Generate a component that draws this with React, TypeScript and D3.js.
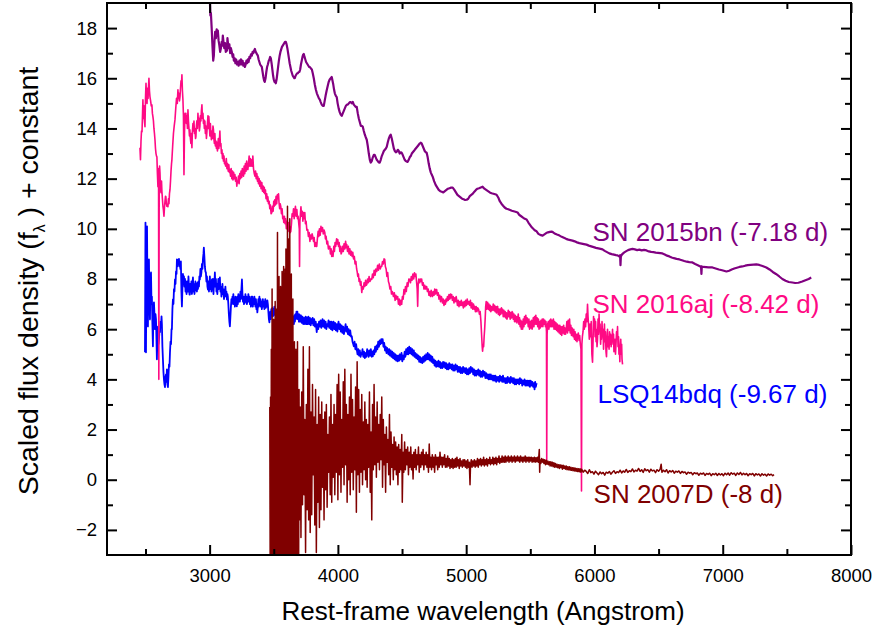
import React, { useEffect, useRef } from 'react'
import * as d3 from 'd3'

// [rest-frame wavelength (A), scaled flux + constant]
const sn2015bn: [number, number][] = [
  [3002,19.1],[3006,18.5],[3010,18.6],[3016,18.0],[3022,17.3],[3028,16.7],[3033,16.9],[3038,17.5],[3043,17.85],[3049,17.6],[3055,17.95],[3060,17.7],[3064,17.9],[3070,17.5],[3076,17.3],[3082,17.05],[3088,17.2],[3094,17.45],[3098,17.3],[3103,17.7],[3108,17.45],[3114,17.2],[3120,17.4],[3126,17.05],[3131,17.25],[3135,17.1],[3139,17.6],[3142,17.45],[3148,17.2],[3154,17.35],[3160,17.0],[3166,17.2],[3173,17.05],[3179,16.85],[3184,16.95],[3189,16.7],[3195,16.8],[3201,16.6],[3207,16.75],[3213,16.55],[3220,16.65],[3226,16.5],[3232,16.7],[3238,16.55],[3244,16.75],[3251,16.55],[3257,16.7],[3263,16.5],[3269,16.6],[3275,16.45],[3281,16.55],[3287,16.7],[3293,16.6],[3298,16.75],[3304,16.65],[3310,16.85],[3316,16.8],[3322,16.95],[3329,16.9],[3335,17.05],[3341,17.0],[3347,17.1],[3353,17.17],[3359,17.05],[3365,17.0],[3370,16.95],[3376,16.9],[3382,16.75],[3388,16.65],[3394,16.55],[3400,16.5],[3407,16.45],[3413,16.25],[3419,16.05],[3425,15.9],[3430,15.86],[3436,16.0],[3442,16.25],[3448,16.45],[3454,16.55],[3461,16.7],[3466,16.75],[3472,16.85],[3477,16.8],[3483,16.6],[3489,16.35],[3495,16.1],[3500,15.95],[3506,15.85],[3511,15.9],[3516,15.8],[3522,15.95],[3528,16.2],[3534,16.45],[3540,16.7],[3546,16.9],[3552,17.05],[3558,17.15],[3564,17.25],[3570,17.3],[3576,17.35],[3582,17.4],[3588,17.45],[3594,17.45],[3600,17.35],[3606,17.2],[3612,17.0],[3618,16.8],[3624,16.6],[3630,16.45],[3636,16.3],[3642,16.2],[3648,16.1],[3654,16.05],[3660,16.0],[3664,16.0],[3670,16.1],[3676,16.15],[3682,16.2],[3688,16.2],[3694,16.25],[3700,16.25],[3706,16.35],[3712,16.55],[3718,16.7],[3724,16.85],[3730,16.95],[3734,16.97],[3740,16.85],[3746,16.75],[3752,16.65],[3758,16.6],[3764,16.55],[3770,16.5],[3776,16.45],[3782,16.45],[3788,16.4],[3797,16.35],[3804,16.2],[3812,16.0],[3820,15.75],[3828,15.55],[3836,15.4],[3844,15.3],[3852,15.2],[3859,15.15],[3866,15.05],[3874,14.95],[3882,14.9],[3890,14.9],[3897,15.1],[3904,15.3],[3912,15.5],[3921,15.7],[3928,15.85],[3936,15.95],[3944,16.0],[3952,16.05],[3958,15.9],[3964,15.75],[3970,15.55],[3976,15.4],[3984,15.3],[3991,15.25],[3998,15.0],[4006,14.8],[4014,14.65],[4022,14.55],[4030,14.5],[4038,14.6],[4046,14.7],[4054,14.8],[4062,14.9],[4070,14.95],[4077,14.95],[4085,15.0],[4093,15.05],[4100,15.05],[4108,15.0],[4116,15.06],[4124,14.95],[4132,14.9],[4140,14.85],[4147,14.86],[4155,14.6],[4163,14.4],[4171,14.25],[4179,14.1],[4186,14.1],[4194,14.07],[4202,13.9],[4210,13.75],[4217,13.65],[4225,13.55],[4233,13.3],[4241,13.0],[4249,12.75],[4256,12.64],[4264,12.7],[4272,12.85],[4280,12.95],[4287,12.95],[4295,12.85],[4303,12.75],[4311,12.7],[4318,12.65],[4326,12.64],[4334,12.75],[4342,12.9],[4350,13.0],[4358,13.1],[4366,13.15],[4374,13.2],[4381,13.27],[4389,13.45],[4397,13.6],[4405,13.7],[4412,13.75],[4420,13.6],[4428,13.4],[4436,13.2],[4444,13.1],[4452,13.05],[4459,13.07],[4467,13.15],[4475,13.1],[4482,13.0],[4490,13.05],[4497,13.03],[4505,12.95],[4513,12.85],[4521,12.75],[4529,12.7],[4537,12.68],[4544,12.67],[4552,12.75],[4560,12.85],[4568,12.9],[4576,13.0],[4584,13.05],[4592,13.1],[4599,13.15],[4607,13.2],[4615,13.25],[4623,13.3],[4630,13.35],[4638,13.4],[4645,13.43],[4653,13.4],[4661,13.3],[4669,13.2],[4677,13.1],[4685,13.05],[4692,13.03],[4700,12.85],[4708,12.6],[4716,12.4],[4724,12.25],[4732,12.15],[4739,12.08],[4750,11.9],[4762,11.75],[4774,11.65],[4786,11.55],[4798,11.5],[4810,11.48],[4822,11.45],[4834,11.5],[4846,11.55],[4858,11.6],[4870,11.62],[4882,11.64],[4895,11.64],[4908,11.55],[4920,11.45],[4932,11.35],[4944,11.3],[4956,11.25],[4968,11.2],[4980,11.18],[4992,11.15],[5004,11.16],[5016,11.2],[5028,11.3],[5040,11.35],[5052,11.4],[5064,11.48],[5076,11.55],[5088,11.6],[5100,11.62],[5114,11.65],[5128,11.68],[5142,11.6],[5156,11.55],[5170,11.5],[5184,11.45],[5198,11.42],[5212,11.4],[5226,11.38],[5237,11.36],[5250,11.25],[5262,11.1],[5275,11.0],[5288,10.92],[5300,10.85],[5314,10.8],[5328,10.78],[5342,10.75],[5356,10.72],[5370,10.7],[5384,10.68],[5401,10.65],[5415,10.55],[5429,10.5],[5443,10.45],[5457,10.4],[5471,10.37],[5485,10.25],[5499,10.15],[5513,10.05],[5527,9.98],[5541,9.92],[5549,9.9],[5563,9.8],[5577,9.76],[5596,9.73],[5610,9.78],[5624,9.83],[5638,9.86],[5652,9.88],[5666,9.89],[5680,9.85],[5694,9.8],[5708,9.77],[5728,9.73],[5745,9.68],[5762,9.64],[5779,9.6],[5796,9.57],[5812,9.55],[5829,9.53],[5846,9.5],[5864,9.46],[5882,9.43],[5900,9.41],[5918,9.39],[5938,9.37],[5956,9.33],[5975,9.3],[5994,9.27],[6012,9.24],[6030,9.22],[6048,9.2],[6063,9.18],[6080,9.12],[6098,9.07],[6116,9.02],[6134,8.99],[6152,8.97],[6168,8.95],[6180,8.94],[6192,8.9],[6200,8.95],[6203,8.55],[6206,8.9],[6215,8.98],[6230,9.05],[6245,9.1],[6262,9.15],[6280,9.18],[6297,9.2],[6315,9.18],[6333,9.15],[6350,9.17],[6368,9.14],[6387,9.16],[6406,9.14],[6424,9.1],[6442,9.08],[6460,9.07],[6478,9.05],[6496,9.04],[6513,9.03],[6530,9.02],[6548,8.98],[6566,8.93],[6584,8.9],[6602,8.86],[6620,8.83],[6640,8.8],[6663,8.78],[6682,8.75],[6700,8.72],[6720,8.69],[6740,8.67],[6764,8.66],[6785,8.6],[6806,8.55],[6825,8.5],[6831,8.5],[6834,8.2],[6837,8.5],[6850,8.48],[6870,8.47],[6890,8.46],[6920,8.46],[6945,8.42],[6970,8.38],[6995,8.35],[7029,8.3],[7050,8.33],[7070,8.38],[7090,8.42],[7110,8.45],[7130,8.48],[7153,8.5],[7175,8.53],[7195,8.55],[7215,8.56],[7240,8.57],[7262,8.58],[7285,8.56],[7310,8.52],[7340,8.46],[7365,8.38],[7390,8.28],[7415,8.2],[7441,8.1],[7465,8.0],[7490,7.93],[7515,7.88],[7543,7.86],[7565,7.84],[7590,7.85],[7620,7.9],[7645,7.95],[7670,8.0],[7690,8.06]
]

const sn2016aj: [number, number][] = [
  [2457,13.23],[2461,12.75],[2465,13.5],[2469,13.9],[2473,13.87],[2477,14.6],[2480,15.14],[2484,14.4],[2488,14.9],[2492,14.3],[2496,14.07],[2500,15.2],[2504,15.8],[2508,15.3],[2512,15.0],[2516,15.6],[2520,15.2],[2524,15.7],[2527,16.0],[2531,15.5],[2535,15.26],[2540,15.1],[2545,14.9],[2550,14.94],[2554,14.6],[2558,14.47],[2562,14.3],[2566,14.0],[2570,13.8],[2574,13.55],[2578,13.2],[2582,13.0],[2586,12.9],[2589,12.87],[2593,12.2],[2597,11.68],[2600,12.4],[2602,11.9],[2604,4.0],[2607,11.6],[2610,12.5],[2613,12.24],[2617,11.6],[2621,11.44],[2625,11.9],[2628,11.5],[2632,11.2],[2636,10.9],[2640,10.75],[2644,10.5],[2648,10.85],[2652,11.1],[2656,11.3],[2659,11.28],[2663,11.0],[2667,10.9],[2671,10.95],[2675,10.88],[2679,11.2],[2683,11.0],[2687,11.4],[2691,11.56],[2695,11.9],[2699,12.3],[2703,12.6],[2706,12.75],[2712,13.3],[2718,13.8],[2724,14.1],[2730,14.35],[2736,14.8],[2742,15.2],[2748,15.0],[2753,15.54],[2757,15.2],[2761,15.4],[2765,15.1],[2769,15.26],[2773,15.6],[2777,15.9],[2781,15.8],[2784,16.14],[2788,15.5],[2792,15.14],[2796,14.5],[2800,12.16],[2804,13.8],[2808,14.6],[2812,14.3],[2815,14.6],[2819,14.2],[2823,14.5],[2827,14.0],[2831,14.74],[2835,14.3],[2839,14.0],[2843,13.7],[2846,13.95],[2850,13.6],[2854,13.4],[2858,13.8],[2862,13.23],[2866,13.9],[2870,14.2],[2874,13.9],[2878,14.3],[2882,13.8],[2886,14.0],[2890,13.6],[2893,13.67],[2897,14.1],[2901,14.3],[2905,14.0],[2909,14.6],[2913,14.2],[2917,14.4],[2920,13.9],[2924,14.07],[2928,14.5],[2932,14.3],[2936,14.7],[2940,14.94],[2944,14.4],[2948,14.6],[2952,14.2],[2955,14.35],[2959,14.0],[2963,14.3],[2967,13.8],[2971,14.1],[2975,13.6],[2979,13.87],[2983,14.2],[2987,14.5],[2991,14.0],[2994,14.47],[2998,14.1],[3002,13.7],[3006,14.2],[3010,13.8],[3014,13.55],[3018,13.9],[3022,13.6],[3026,14.1],[3030,13.95],[3033,13.6],[3037,13.4],[3041,13.8],[3045,13.3],[3049,13.5],[3053,13.2],[3057,13.45],[3061,13.1],[3064,13.35],[3068,13.6],[3072,13.2],[3076,13.5],[3080,13.9],[3084,13.3],[3088,13.4],[3092,13.0],[3096,13.15],[3100,12.8],[3104,13.0],[3108,12.7],[3112,12.9],[3116,12.6],[3119,12.64],[3125,12.5],[3130,12.8],[3135,12.4],[3140,12.6],[3145,12.3],[3150,12.55],[3154,12.25],[3158,12.36],[3163,12.1],[3168,12.4],[3173,12.0],[3178,12.3],[3182,11.95],[3187,12.25],[3192,12.0],[3197,12.16],[3202,11.9],[3207,12.05],[3212,11.7],[3216,11.9],[3220,11.84],[3225,12.1],[3230,11.8],[3235,12.2],[3240,12.0],[3245,12.3],[3250,12.05],[3255,12.4],[3259,12.28],[3264,12.1],[3269,12.5],[3274,12.2],[3279,12.6],[3284,12.3],[3289,12.7],[3294,12.4],[3298,12.36],[3303,12.6],[3308,12.9],[3313,12.5],[3318,12.8],[3323,12.5],[3329,12.75],[3333,12.5],[3337,12.9],[3342,12.4],[3348,12.2],[3353,12.1],[3358,12.3],[3363,12.0],[3368,12.2],[3373,11.9],[3376,12.08],[3381,11.8],[3386,12.0],[3391,11.7],[3396,11.9],[3401,11.6],[3407,11.84],[3412,11.5],[3417,11.7],[3422,11.45],[3426,11.65],[3430,11.4],[3435,11.55],[3440,11.2],[3445,11.4],[3450,11.1],[3454,11.28],[3459,11.0],[3464,11.1],[3469,10.8],[3474,10.95],[3479,10.6],[3485,10.65],[3490,10.9],[3495,10.7],[3500,11.1],[3504,10.9],[3508,11.16],[3513,10.95],[3518,11.3],[3523,11.0],[3528,11.36],[3532,11.2],[3537,11.4],[3541,11.05],[3546,10.8],[3550,11.0],[3555,10.88],[3560,10.6],[3565,10.8],[3570,10.4],[3574,10.5],[3578,10.25],[3583,10.5],[3588,10.2],[3593,10.4],[3598,10.0],[3603,10.3],[3608,10.0],[3613,10.25],[3618,9.9],[3623,10.1],[3628,9.85],[3633,9.9],[3638,10.2],[3643,10.6],[3649,10.5],[3654,10.8],[3659,10.4],[3664,10.7],[3669,10.9],[3674,10.5],[3680,10.77],[3685,10.4],[3690,10.5],[3695,10.2],[3699,10.0],[3701,8.5],[3704,10.3],[3708,10.6],[3712,10.88],[3717,10.5],[3722,10.7],[3727,10.3],[3732,10.65],[3737,10.4],[3742,10.65],[3747,10.2],[3752,10.3],[3758,9.95],[3765,9.97],[3770,9.7],[3776,9.85],[3782,9.5],[3788,9.75],[3794,9.6],[3799,9.8],[3804,9.7],[3810,9.5],[3815,9.65],[3820,9.3],[3826,9.45],[3830,9.3],[3835,9.3],[3840,9.6],[3846,9.9],[3851,9.7],[3856,10.0],[3862,9.75],[3868,10.1],[3874,9.9],[3880,10.05],[3886,9.8],[3892,9.95],[3898,9.85],[3903,9.6],[3908,9.7],[3914,9.4],[3920,9.5],[3926,9.2],[3932,9.3],[3937,9.3],[3942,9.0],[3947,9.2],[3952,8.9],[3957,9.1],[3962,8.9],[3968,9.3],[3973,9.1],[3978,9.45],[3983,9.3],[3990,9.6],[3995,9.4],[3999,9.57],[4005,9.3],[4010,9.45],[4015,9.1],[4020,9.3],[4025,9.0],[4030,9.06],[4036,9.3],[4042,9.1],[4048,9.4],[4054,9.2],[4060,9.5],[4065,9.25],[4069,9.37],[4075,9.1],[4081,9.3],[4087,9.0],[4093,9.2],[4099,8.95],[4105,9.1],[4111,8.9],[4116,9.06],[4122,8.8],[4128,8.9],[4134,8.6],[4140,8.7],[4146,8.4],[4150,8.3],[4155,8.1],[4160,8.2],[4165,7.9],[4170,8.0],[4175,7.75],[4180,7.9],[4186,7.46],[4192,7.7],[4198,7.6],[4204,7.85],[4210,7.7],[4216,7.95],[4221,7.75],[4225,7.78],[4231,8.0],[4237,7.85],[4243,8.1],[4250,7.9],[4256,8.0],[4264,7.98],[4270,8.2],[4276,8.05],[4283,8.35],[4290,8.15],[4296,8.4],[4303,8.3],[4310,8.55],[4316,8.35],[4323,8.6],[4330,8.4],[4336,8.5],[4342,8.5],[4348,8.7],[4354,8.6],[4360,8.8],[4365,8.78],[4370,8.5],[4376,8.4],[4382,8.1],[4388,8.26],[4394,7.9],[4400,7.8],[4406,7.6],[4412,7.7],[4418,7.4],[4424,7.5],[4427,7.46],[4433,7.3],[4440,7.45],[4446,7.15],[4452,7.35],[4459,7.2],[4466,7.3],[4472,7.0],[4478,7.2],[4484,6.95],[4490,7.15],[4497,6.99],[4503,7.3],[4509,7.2],[4515,7.58],[4521,7.4],[4527,7.7],[4533,7.5],[4540,7.85],[4546,7.7],[4553,8.0],[4560,7.98],[4566,7.85],[4572,8.1],[4578,7.95],[4585,8.2],[4591,8.0],[4597,8.25],[4603,8.1],[4608,8.2],[4613,7.9],[4618,7.6],[4622,6.91],[4626,7.8],[4631,8.0],[4637,7.85],[4643,8.0],[4649,7.9],[4653,8.0],[4659,7.75],[4665,7.85],[4671,7.6],[4677,7.75],[4683,7.6],[4688,7.7],[4692,7.7],[4698,7.5],[4704,7.6],[4710,7.35],[4716,7.5],[4722,7.3],[4727,7.55],[4731,7.46],[4737,7.3],[4743,7.5],[4749,7.35],[4755,7.6],[4761,7.4],[4766,7.58],[4770,7.58],[4776,7.35],[4782,7.45],[4788,7.2],[4794,7.35],[4800,7.1],[4805,7.3],[4809,7.27],[4815,7.05],[4821,7.2],[4827,6.95],[4833,7.15],[4838,7.0],[4843,7.2],[4848,7.1],[4854,7.3],[4860,7.15],[4866,7.38],[4872,7.2],[4878,7.4],[4883,7.25],[4887,7.38],[4893,7.15],[4899,7.3],[4905,7.05],[4911,7.25],[4917,7.1],[4922,7.3],[4926,7.18],[4932,6.95],[4938,7.15],[4944,6.9],[4950,7.1],[4956,6.95],[4962,7.15],[4967,6.95],[4972,7.07],[4978,6.85],[4984,7.1],[4990,6.9],[4996,7.15],[5002,6.95],[5008,7.2],[5014,7.0],[5020,7.1],[5027,6.95],[5033,7.15],[5039,6.85],[5045,7.05],[5051,6.8],[5057,7.0],[5062,6.8],[5066,6.91],[5072,6.7],[5078,6.9],[5084,6.7],[5090,6.85],[5097,6.79],[5103,6.6],[5109,6.7],[5115,6.3],[5120,5.8],[5125,5.3],[5128,5.12],[5132,5.4],[5136,5.3],[5140,5.7],[5144,6.0],[5148,6.4],[5152,6.9],[5156,7.1],[5160,6.8],[5164,7.0],[5167,7.07],[5172,6.8],[5177,7.0],[5182,6.75],[5187,6.95],[5192,6.7],[5197,6.9],[5202,6.75],[5206,6.79],[5211,7.0],[5216,6.75],[5221,6.95],[5226,6.7],[5231,6.9],[5236,6.65],[5241,6.9],[5245,6.91],[5250,6.6],[5255,6.8],[5260,6.55],[5265,6.8],[5270,6.6],[5275,6.85],[5280,6.65],[5284,6.79],[5289,6.5],[5294,6.75],[5299,6.5],[5304,6.7],[5309,6.45],[5314,6.65],[5318,6.4],[5323,6.5],[5328,6.75],[5333,6.5],[5338,6.7],[5343,6.4],[5348,6.65],[5353,6.45],[5358,6.7],[5362,6.67],[5367,6.4],[5372,6.6],[5377,6.3],[5382,6.55],[5387,6.3],[5392,6.5],[5396,6.25],[5401,6.39],[5406,6.6],[5411,6.2],[5416,6.45],[5421,6.1],[5426,6.35],[5430,6.0],[5435,6.3],[5440,6.0],[5445,6.4],[5450,6.1],[5455,6.5],[5460,6.2],[5465,6.55],[5470,6.25],[5475,6.45],[5479,6.39],[5484,6.1],[5489,6.4],[5494,6.0],[5499,6.3],[5504,6.05],[5509,6.35],[5514,6.0],[5518,6.11],[5523,6.45],[5528,6.1],[5533,6.5],[5538,6.2],[5543,6.55],[5548,6.2],[5553,6.45],[5558,6.1],[5563,6.4],[5568,6.0],[5573,6.3],[5578,6.05],[5583,6.35],[5588,6.11],[5593,6.4],[5598,6.1],[5603,6.4],[5608,6.2],[5613,6.35],[5618,6.1],[5622,6.3],[5626,5.9],[5628,0.8],[5631,5.8],[5635,6.2],[5640,6.3],[5645,6.0],[5650,6.35],[5655,6.1],[5660,6.4],[5665,6.1],[5670,6.35],[5675,6.1],[5680,6.4],[5685,6.0],[5690,6.3],[5695,6.0],[5700,6.25],[5705,5.95],[5710,6.2],[5715,5.9],[5720,6.15],[5725,5.85],[5730,6.15],[5735,5.8],[5740,6.1],[5745,5.75],[5750,6.1],[5755,5.85],[5760,6.15],[5765,5.8],[5770,6.05],[5775,5.8],[5780,6.0],[5785,6.3],[5790,5.85],[5795,6.35],[5800,5.95],[5806,6.4],[5811,5.85],[5816,6.15],[5821,5.75],[5826,6.05],[5829,5.9],[5834,5.7],[5839,6.0],[5844,5.6],[5849,5.9],[5854,5.55],[5859,5.8],[5864,5.5],[5868,5.72],[5874,5.85],[5880,5.55],[5885,5.75],[5890,5.4],[5895,5.2],[5899,-0.45],[5902,5.4],[5906,5.7],[5911,5.9],[5916,6.3],[5921,6.0],[5926,6.4],[5931,6.1],[5936,6.6],[5941,6.3],[5946,6.99],[5950,6.5],[5955,6.1],[5960,5.6],[5965,6.2],[5970,5.7],[5975,6.3],[5980,5.0],[5985,4.68],[5989,5.5],[5993,6.5],[5997,6.0],[6001,6.4],[6005,5.7],[6009,6.3],[6013,5.5],[6016,6.0],[6020,5.3],[6024,5.6],[6028,6.4],[6032,5.8],[6036,6.6],[6040,5.9],[6044,6.2],[6048,5.4],[6052,5.9],[6055,5.6],[6059,6.3],[6063,5.7],[6067,6.0],[6071,5.2],[6074,5.6],[6078,6.2],[6082,5.5],[6086,5.9],[6090,5.1],[6094,4.9],[6098,5.6],[6102,6.0],[6106,5.3],[6110,5.7],[6114,5.2],[6118,5.9],[6122,5.4],[6126,5.8],[6130,5.3],[6133,5.7],[6137,5.5],[6141,6.0],[6145,5.4],[6149,5.8],[6152,5.1],[6156,5.4],[6160,5.6],[6164,5.0],[6168,5.4],[6172,5.9],[6176,5.6],[6180,6.1],[6184,5.3],[6188,5.7],[6191,5.0],[6195,5.2],[6198,4.7],[6201,5.3],[6205,5.6],[6209,5.0],[6212,5.4],[6215,4.8],[6219,4.6]
]

const lsq14bdq: [number, number][] = [
  [2496,5.08],[2500,10.25],[2504,5.08],[2508,9.8],[2512,10.1],[2516,7.0],[2519,6.11],[2523,8.2],[2527,8.78],[2531,7.1],[2535,6.39],[2539,8.0],[2543,8.26],[2547,7.0],[2550,7.3],[2554,6.2],[2558,5.32],[2562,6.8],[2566,7.07],[2570,6.6],[2574,6.0],[2578,6.6],[2582,6.39],[2586,5.5],[2589,4.8],[2593,5.7],[2597,6.1],[2601,5.4],[2605,5.6],[2609,5.9],[2613,5.88],[2617,6.3],[2621,6.1],[2625,6.51],[2628,6.2],[2632,5.3],[2636,4.8],[2640,4.3],[2644,4.0],[2648,3.8],[2652,3.69],[2656,4.1],[2660,4.2],[2664,3.9],[2667,4.4],[2671,3.8],[2675,3.69],[2679,4.1],[2683,4.6],[2687,4.5],[2691,5.08],[2695,5.5],[2699,5.4],[2703,6.0],[2706,6.0],[2710,6.8],[2714,7.19],[2718,7.0],[2722,7.6],[2726,7.5],[2730,7.98],[2734,7.8],[2738,8.3],[2742,8.2],[2745,8.78],[2749,8.5],[2753,8.75],[2757,8.6],[2761,8.8],[2765,8.5],[2769,8.65],[2772,8.4],[2776,8.7],[2780,7.5],[2784,6.91],[2788,7.6],[2792,8.2],[2796,7.8],[2800,8.1],[2804,7.7],[2808,8.0],[2812,7.5],[2816,7.9],[2820,7.4],[2823,7.58],[2827,7.9],[2831,7.5],[2835,8.1],[2839,7.7],[2843,7.38],[2846,7.38],[2850,7.8],[2854,7.5],[2858,7.9],[2862,7.4],[2866,7.8],[2870,8.06],[2874,7.5],[2878,7.8],[2882,7.4],[2885,7.6],[2889,7.9],[2893,7.55],[2897,7.8],[2901,7.5],[2905,7.85],[2909,7.6],[2913,7.9],[2917,7.7],[2920,8.1],[2924,7.98],[2928,8.4],[2932,8.1],[2936,8.26],[2940,8.6],[2944,8.4],[2948,8.8],[2952,9.0],[2955,9.25],[2959,8.9],[2963,8.5],[2967,8.3],[2971,8.26],[2975,7.9],[2979,8.1],[2983,7.7],[2987,7.58],[2991,7.9],[2995,7.5],[2998,7.8],[3002,8.1],[3006,7.6],[3010,7.9],[3014,7.5],[3018,7.98],[3022,7.6],[3026,8.0],[3030,7.4],[3034,7.8],[3038,7.9],[3041,8.26],[3045,7.7],[3049,8.0],[3053,7.5],[3057,7.8],[3060,7.4],[3064,7.66],[3068,8.0],[3072,7.6],[3076,7.9],[3080,8.06],[3084,7.5],[3088,7.7],[3092,7.3],[3096,7.46],[3100,7.8],[3104,7.4],[3108,7.6],[3112,7.2],[3116,7.5],[3119,7.4],[3123,7.7],[3127,7.3],[3131,7.5],[3135,7.19],[3139,7.4],[3142,7.3],[3146,7.0],[3150,6.6],[3154,6.3],[3158,6.11],[3162,6.5],[3166,6.9],[3170,7.2],[3174,7.0],[3178,7.3],[3181,7.1],[3185,7.4],[3189,7.0],[3193,7.2],[3197,6.9],[3201,7.3],[3205,7.0],[3209,7.1],[3212,6.91],[3216,7.3],[3220,7.0],[3224,7.4],[3228,7.1],[3232,7.3],[3236,7.1],[3240,7.5],[3244,7.2],[3248,7.6],[3252,7.98],[3256,7.4],[3260,7.1],[3264,7.3],[3268,7.0],[3272,7.3],[3275,7.05],[3279,7.4],[3283,7.1],[3287,7.3],[3291,7.0],[3295,7.2],[3298,7.1],[3302,7.4],[3306,7.1],[3310,7.3],[3314,7.0],[3318,7.2],[3322,6.9],[3326,7.3],[3329,7.1],[3333,7.3],[3337,6.9],[3341,7.2],[3345,7.0],[3349,7.3],[3353,7.1],[3357,6.9],[3361,7.2],[3365,6.8],[3368,7.0],[3372,6.67],[3376,6.9],[3380,7.2],[3384,6.9],[3388,7.3],[3392,6.95],[3396,7.2],[3400,6.9],[3404,7.1],[3407,6.8],[3411,7.0],[3415,7.2],[3419,6.9],[3423,7.1],[3427,6.8],[3430,7.0],[3434,7.2],[3438,6.85],[3442,7.1],[3446,6.9],[3450,7.15],[3454,7.0],[3458,6.7],[3462,6.4],[3466,6.27],[3469,6.5],[3473,6.7],[3477,6.4],[3481,6.8],[3485,6.55],[3489,6.85],[3493,6.5],[3497,6.8],[3501,6.55],[3505,6.9],[3509,6.6],[3513,6.8],[3517,6.5],[3520,6.7],[3524,6.45],[3528,6.75],[3532,6.5],[3536,6.7],[3540,6.5],[3544,6.7],[3547,6.4],[3551,6.65],[3555,6.35],[3559,6.6],[3563,6.4],[3567,6.6],[3571,6.67],[3575,6.4],[3579,6.6],[3583,6.3],[3587,6.55],[3591,6.3],[3595,6.5],[3599,6.2],[3602,6.27],[3606,6.5],[3610,6.2],[3614,6.45],[3618,6.2],[3622,6.5],[3625,6.35],[3629,6.6],[3633,6.3],[3637,6.5],[3641,6.25],[3645,6.5],[3649,6.27],[3653,6.5],[3657,6.2],[3661,6.55],[3665,6.3],[3669,6.6],[3673,6.4],[3677,6.7],[3680,6.5],[3684,6.7],[3688,6.4],[3692,6.6],[3696,6.3],[3700,6.59],[3706,6.3],[3712,6.55],[3718,6.25],[3724,6.5],[3730,6.2],[3736,6.45],[3742,6.2],[3748,6.5],[3754,6.2],[3758,6.47],[3764,6.2],[3770,6.5],[3776,6.2],[3782,6.45],[3788,6.15],[3794,6.4],[3797,6.23],[3803,6.45],[3809,6.15],[3815,6.4],[3821,6.1],[3827,6.3],[3835,5.88],[3841,6.2],[3847,6.0],[3853,6.3],[3859,6.1],[3865,6.35],[3871,6.05],[3874,6.2],[3880,6.4],[3886,6.1],[3892,6.35],[3898,6.05],[3904,6.3],[3910,6.0],[3916,6.2],[3921,6.11],[3927,6.35],[3933,6.05],[3939,6.3],[3945,6.0],[3951,6.3],[3957,5.95],[3960,6.1],[3966,6.3],[3972,6.0],[3978,6.25],[3984,5.95],[3990,6.2],[3996,5.9],[3999,6.1],[4005,6.3],[4011,6.0],[4017,6.2],[4023,5.9],[4029,6.15],[4035,5.85],[4041,6.1],[4047,5.8],[4054,6.0],[4060,6.2],[4066,5.9],[4072,6.1],[4078,5.8],[4084,6.0],[4090,5.75],[4096,5.95],[4102,5.7],[4108,5.72],[4114,5.5],[4120,5.4],[4124,5.32],[4130,5.5],[4136,5.2],[4142,5.4],[4147,5.2],[4153,5.0],[4159,5.2],[4165,4.95],[4171,5.15],[4177,4.9],[4183,5.05],[4186,5.0],[4192,5.2],[4198,4.9],[4204,5.1],[4210,4.85],[4216,5.05],[4222,4.9],[4228,5.2],[4233,5.1],[4239,4.9],[4245,5.15],[4251,4.95],[4257,5.2],[4263,4.9],[4267,5.1],[4272,4.92],[4278,5.15],[4284,5.0],[4290,5.3],[4296,5.1],[4302,5.35],[4308,5.2],[4314,5.5],[4320,5.3],[4326,5.55],[4332,5.4],[4338,5.6],[4343,5.45],[4349,5.6],[4355,5.3],[4361,5.45],[4367,5.15],[4373,5.3],[4379,5.05],[4384,5.25],[4388,5.2],[4394,5.0],[4400,5.2],[4406,4.95],[4412,5.15],[4418,4.9],[4424,5.1],[4430,4.85],[4436,5.05],[4442,4.8],[4448,5.0],[4454,4.75],[4460,4.95],[4466,4.72],[4472,4.95],[4478,4.75],[4484,5.0],[4490,4.8],[4496,5.05],[4502,4.72],[4508,4.95],[4514,4.8],[4520,5.1],[4526,4.9],[4532,5.2],[4538,5.0],[4544,5.25],[4550,5.0],[4556,5.3],[4562,5.05],[4568,5.25],[4574,5.0],[4580,5.2],[4586,4.95],[4592,5.15],[4598,4.9],[4604,5.05],[4610,4.85],[4616,5.0],[4622,4.8],[4628,4.95],[4634,4.7],[4640,4.9],[4646,4.68],[4652,4.85],[4658,4.65],[4664,4.9],[4670,4.7],[4676,4.95],[4682,4.75],[4688,5.0],[4694,4.8],[4700,5.05],[4706,4.8],[4712,5.0],[4718,4.75],[4724,4.95],[4730,4.7],[4736,4.9],[4742,4.65],[4748,4.8],[4754,4.55],[4760,4.75],[4766,4.5],[4772,4.7],[4778,4.52],[4784,4.75],[4790,4.5],[4796,4.7],[4802,4.45],[4808,4.65],[4814,4.45],[4820,4.7],[4826,4.5],[4832,4.68],[4838,4.45],[4844,4.65],[4850,4.4],[4856,4.6],[4862,4.4],[4868,4.65],[4874,4.45],[4880,4.6],[4887,4.4],[4893,4.6],[4899,4.35],[4905,4.55],[4911,4.35],[4917,4.6],[4923,4.4],[4929,4.55],[4934,4.3],[4940,4.5],[4946,4.3],[4952,4.5],[4958,4.25],[4964,4.45],[4970,4.25],[4976,4.5],[4982,4.3],[4988,4.45],[4994,4.25],[5000,4.45],[5006,4.2],[5012,4.4],[5018,4.2],[5024,4.45],[5030,4.25],[5036,4.5],[5043,4.3],[5049,4.45],[5055,4.2],[5061,4.4],[5067,4.15],[5073,4.35],[5079,4.15],[5085,4.35],[5089,4.2],[5095,4.4],[5101,4.15],[5107,4.35],[5113,4.1],[5119,4.3],[5125,4.1],[5131,4.35],[5137,4.15],[5144,4.3],[5150,4.05],[5156,4.25],[5162,4.05],[5168,4.2],[5174,4.0],[5180,4.2],[5186,4.0],[5192,4.2],[5198,4.0],[5204,4.15],[5210,3.95],[5216,4.15],[5222,3.95],[5228,4.15],[5234,3.9],[5240,4.1],[5245,3.95],[5251,4.1],[5257,3.9],[5263,4.15],[5269,3.95],[5275,4.1],[5281,3.9],[5287,4.15],[5293,3.9],[5300,4.05],[5306,3.85],[5312,4.05],[5318,3.85],[5324,4.1],[5330,3.9],[5336,4.05],[5342,3.85],[5348,4.1],[5354,3.9],[5360,4.05],[5366,3.85],[5372,4.05],[5378,3.8],[5384,4.0],[5390,3.8],[5396,4.0],[5401,3.85],[5407,4.0],[5413,3.8],[5419,4.05],[5425,3.85],[5431,4.0],[5437,3.75],[5443,3.95],[5449,3.8],[5455,4.0],[5461,3.75],[5467,3.95],[5473,3.75],[5479,3.95],[5485,3.75],[5491,3.95],[5497,3.7],[5503,3.95],[5510,3.75],[5516,3.9],[5522,3.7],[5528,3.85],[5533,3.6],[5538,3.9],[5543,3.7],[5549,3.85]
]

const sn2007d: [number, number][] = [
  [3469,2.9],[3472,-3.6],[3475,3.3],[3478,-3.6],[3481,5.2],[3484,-3.6],[3487,7.6],[3490,-3.6],[3493,4.8],[3496,-3.6],[3499,6.4],[3502,-3.6],[3505,4.6],[3508,-3.6],[3511,7.1],[3514,-3.6],[3517,5.9],[3520,-3.6],[3523,6.8],[3526,-3.6],[3529,9.85],[3532,-3.6],[3535,6.3],[3538,-3.6],[3541,8.1],[3544,-3.6],[3547,5.6],[3550,-3.6],[3553,7.7],[3556,-3.6],[3559,6.2],[3562,-3.6],[3565,8.3],[3568,-3.6],[3571,7.0],[3574,-3.6],[3577,8.5],[3580,-3.6],[3583,7.3],[3586,-3.6],[3589,8.4],[3592,-3.6],[3595,9.2],[3598,-3.6],[3601,8.0],[3604,-3.6],[3607,10.9],[3610,-3.6],[3613,9.6],[3616,-3.6],[3619,8.3],[3622,-3.6],[3625,10.4],[3628,-3.6],[3631,7.3],[3634,-3.6],[3637,8.2],[3640,-3.6],[3643,6.4],[3646,-3.6],[3649,7.2],[3652,-3.6],[3655,5.4],[3658,-3.6],[3661,5.5],[3664,-3.6],[3667,4.9],[3670,-3.6],[3673,5.2],[3676,-3.6],[3679,4.1],[3682,-3.6],[3685,5.5],[3688,-3.0],[3691,3.4],[3694,-3.6],[3697,3.6],[3700,-1.6],
  [3706,2.9],[3712,-2.3],[3718,3.5],[3724,-1.0],[3730,5.3],[3736,-0.6],[3742,2.4],[3748,-2.9],[3754,3.0],[3760,-1.2],[3766,4.4],[3772,-1.6],[3778,5.3],[3784,-2.1],[3790,2.7],[3796,-1.4],[3802,3.8],[3808,0.2],[3814,2.5],[3820,-1.8],[3826,3.6],[3832,-2.9],[3838,2.2],[3844,-0.9],[3850,3.3],[3856,-1.9],[3862,2.6],[3868,-1.2],[3874,3.1],[3880,-0.3],[3886,2.4],[3892,-1.6],[3898,2.7],[3904,-0.4],[3910,3.0],[3916,-1.1],[3922,1.8],[3928,0.3],[3934,2.5],[3940,-0.6],[3946,3.4],[3952,-0.9],[3958,2.2],[3964,0.1],[3970,3.0],[3976,-0.6],[3982,2.6],[3988,0.3],[3994,3.8],[4000,-0.8],[4006,4.2],[4012,0.2],[4018,3.5],[4024,-0.5],[4030,2.4],[4036,0.5],[4042,3.9],[4048,-0.2],[4054,4.4],[4060,0.6],[4066,3.0],[4072,-0.9],[4078,2.6],[4084,0.0],[4090,3.3],[4096,-0.6],[4102,4.2],[4108,0.3],[4114,3.2],[4120,-0.4],[4126,2.5],[4132,0.4],[4138,3.7],[4144,-1.3],[4150,4.7],[4156,0.2],[4162,3.6],[4168,-0.5],[4174,2.8],[4180,0.3],[4186,3.4],[4192,-0.2],[4198,2.3],[4204,0.4],[4210,3.1],[4216,0.0],[4222,2.4],[4228,-0.3],[4234,2.2],[4240,0.5],[4246,3.5],[4252,-0.5],[4258,1.9],[4264,-1.6],[4270,3.0],[4276,0.4],[4282,3.8],[4288,0.6],[4294,2.5],[4300,0.1],[4306,3.1],[4312,0.7],[4318,2.2],[4324,0.4],[4330,2.6],[4336,0.8],[4342,3.3],[4348,-0.3],[4354,2.4],[4360,0.6],[4366,1.8],[4372,-0.5],[4378,2.1],[4384,0.7],[4390,1.6],[4396,0.2],[4402,2.6],[4408,-0.2],[4414,1.9],[4420,0.5],[4426,1.4],[4432,0.0],[4438,1.7],[4444,0.4],[4450,1.5],[4456,0.2],[4462,1.3],[4468,-0.2],[4474,1.4],[4480,0.3],[4486,1.2],[4492,0.4],[4498,1.8],[4502,-0.9],[4508,1.1],[4514,0.3],[4520,1.5],[4526,0.4],[4532,1.2],[4538,0.6],[4544,1.3],[4550,0.2],[4556,1.1],[4562,0.5],[4568,1.3],[4574,0.4],[4580,1.0],[4586,0.03],[4592,1.1],[4598,0.5],[4604,1.2],[4610,0.4],[4616,1.0],[4622,0.6],[4628,1.3],[4634,0.3],[4640,1.0],[4646,0.5],[4652,1.1],[4658,0.6],[4664,1.2],[4670,0.4],[4676,1.0],[4682,0.6],[4688,1.1],[4694,0.5],[4700,1.0],[4706,0.3],[4712,1.42],[4718,0.5],[4724,0.9],[4730,0.4],[4736,1.0],[4742,0.5],[4748,0.9],[4754,0.3],[4760,1.0],[4766,0.6],[4772,0.9],[4778,0.4],[4784,0.9],[4790,0.5],[4796,1.1],[4802,0.6],[4808,0.9],[4814,0.5],[4820,0.9],[4826,0.6],[4832,1.0],[4838,0.5],[4844,0.85],[4850,0.5],[4856,0.95],[4862,0.55],[4868,0.85],[4874,0.45],[4880,0.8],[4886,0.5],[4892,0.85],[4898,0.45],[4904,0.8],[4910,0.5],[4916,0.85],[4922,0.5],[4928,0.9],[4934,0.55],[4940,0.8],[4946,0.45],[4952,0.85],[4958,0.55],[4964,0.75],[4970,0.5],[4976,0.8],[4982,0.55],[4988,0.8],[4994,0.5],[5000,0.75],[5006,0.45],[5012,0.8],[5018,0.5],[5024,0.7],[5030,-0.2],[5034,0.6],[5040,0.8],[5046,0.5],[5052,0.75],[5058,0.55],[5064,0.8],[5070,0.5],[5076,0.75],[5082,0.55],[5088,0.85],[5094,0.5],[5100,0.8],[5106,0.6],[5112,0.85],[5118,0.55],[5124,0.8],[5130,0.6],[5136,0.9],[5142,0.55],[5148,0.8],[5154,0.6],[5160,0.85],[5166,0.55],[5172,0.8],[5178,0.65],[5184,0.9],[5190,0.6],[5196,0.8],[5202,0.65],[5208,0.9],[5214,0.6],[5220,0.85],[5226,0.65],[5232,0.9],[5238,0.6],[5244,0.85],[5250,0.7],[5256,0.95],[5262,0.65],[5268,0.85],[5274,0.7],[5280,0.95],[5286,0.7],[5292,0.9],[5298,0.7],[5304,0.95],[5310,0.7],[5316,0.9],[5322,0.75],[5328,0.95],[5334,0.7],[5340,0.9],[5346,0.75],[5352,0.95],[5358,0.7],[5364,0.9],[5370,0.75],[5376,0.95],[5382,0.7],[5388,0.9],[5394,0.75],[5400,0.95],[5406,0.75],[5412,0.9],[5418,0.7],[5424,0.95],[5430,0.75],[5436,0.9],[5442,0.7],[5448,0.9],[5454,0.75],[5460,0.95],[5466,0.7],[5472,0.9],[5478,0.75],[5484,0.9],[5490,0.7],[5496,0.9],[5502,0.75],[5508,0.9],[5514,0.7],[5520,0.88],[5526,0.72],[5532,0.9],[5538,0.7],[5544,0.88],[5550,0.72],[5556,0.9],[5562,0.7],[5566,0.9],[5570,1.2],[5573,0.3],[5576,0.8],[5582,0.65],[5588,0.85],[5594,0.7],[5600,0.82],[5606,0.65],[5612,0.8],[5618,0.6],[5624,0.78],[5630,0.62],[5636,0.75],[5642,0.6],[5648,0.72],[5654,0.55],[5660,0.72],[5666,0.55],[5672,0.7],[5678,0.52],[5684,0.68],[5690,0.5],[5696,0.65],[5702,0.5],[5708,0.62],[5714,0.48],[5720,0.6],[5726,0.45],[5732,0.6],[5738,0.48],[5744,0.58],[5750,0.42],[5756,0.58],[5762,0.45],[5768,0.55],[5774,0.42],[5780,0.55],[5786,0.4],[5792,0.52],[5798,0.4],[5804,0.52],[5810,0.38],[5816,0.5],[5822,0.38],[5828,0.48],[5834,0.36],[5840,0.48],[5846,0.35],[5852,0.46],[5858,0.34],[5864,0.45],[5870,0.33],[5876,0.44],[5882,0.32],[5888,0.44],[5894,0.3],
  [5900,0.42],[5912,0.3],[5924,0.38],[5936,0.33],[5948,0.25],[5960,0.4],[5972,0.28],[5984,0.32],[5996,0.22],[6008,0.34],[6020,0.27],[6032,0.2],[6044,0.31],[6056,0.24],[6068,0.29],[6080,0.18],[6092,0.3],[6104,0.26],[6116,0.33],[6128,0.22],[6140,0.3],[6152,0.36],[6164,0.25],[6176,0.32],[6188,0.28],[6200,0.38],[6212,0.27],[6224,0.35],[6236,0.3],[6248,0.41],[6260,0.29],[6272,0.36],[6284,0.32],[6296,0.43],[6308,0.31],[6320,0.38],[6332,0.34],[6344,0.45],[6356,0.33],[6368,0.4],[6380,0.29],[6392,0.44],[6404,0.36],[6416,0.4],[6428,0.3],[6440,0.42],[6452,0.35],[6464,0.38],[6476,0.28],[6488,0.4],[6500,0.34],[6512,0.42],[6520,0.62],[6526,0.3],[6538,0.38],[6550,0.32],[6562,0.4],[6574,0.27],[6586,0.36],[6598,0.31],[6610,0.37],[6622,0.26],[6634,0.34],[6646,0.3],[6658,0.35],[6670,0.25],[6682,0.33],[6694,0.28],[6706,0.31],[6718,0.22],[6730,0.3],[6742,0.26],[6754,0.29],[6766,0.2],[6778,0.28],[6790,0.24],[6802,0.27],[6814,0.18],[6826,0.26],[6838,0.22],[6850,0.27],[6862,0.17],[6874,0.25],[6886,0.21],[6898,0.26],[6910,0.16],[6922,0.24],[6934,0.2],[6946,0.26],[6958,0.17],[6970,0.25],[6982,0.19],[6994,0.24],[7006,0.16],[7018,0.26],[7030,0.2],[7042,0.27],[7054,0.18],[7066,0.28],[7078,0.22],[7090,0.26],[7102,0.17],[7114,0.27],[7126,0.21],[7138,0.29],[7150,0.19],[7162,0.26],[7174,0.2],[7186,0.25],[7198,0.16],[7210,0.24],[7222,0.2],[7234,0.25],[7246,0.15],[7258,0.24],[7270,0.19],[7282,0.23],[7294,0.15],[7306,0.24],[7318,0.18],[7330,0.22],[7342,0.15],[7354,0.23],[7366,0.18],[7378,0.22],[7390,0.16],[7400,0.2]
]

// drawing order: blue, pink, dark red, purple
const spectra = [lsq14bdq, sn2016aj, sn2007d, sn2015bn]
const spectrumColors = ['#0000ff', '#ff0a84', '#800000', '#800080']
const spectrumWidths = [1.8, 1.6, 1.5, 2.2]

const labelNames = ['SN 2015bn (-7.18 d)', 'SN 2016aj (-8.42 d)', 'LSQ14bdq (-9.67 d)', 'SN 2007D (-8 d)']
const labelColors = ['#800080', '#ff0a84', '#0000ff', '#800000']
const labelWave = [5985, 5985, 6024, 5993]
const labelFlux = [9.5, 6.64, 3.06, -0.93]

const xMajorTicks = [3000, 4000, 5000, 6000, 7000, 8000]
const xMinorTicks = [2500, 3500, 4500, 5500, 6500, 7500]
const yMajorTicks = [-2, 0, 2, 4, 6, 8, 10, 12, 14, 16, 18]
const yMinorTicks = [-1, 1, 3, 5, 7, 9, 11, 13, 15, 17]

const W = 878
const H = 639
const margin = { top: 3, right: 27, bottom: 84, left: 107 }
const FONT = "'Liberation Sans', Arial, Helvetica, sans-serif"

export default function App() {
  const ref = useRef<SVGSVGElement>(null)

  useEffect(() => {
    const svg = d3.select(ref.current)
    svg.selectAll('*').remove()

    const x = d3.scaleLinear().domain([2200, 8000]).range([margin.left, W - margin.right])
    const y = d3.scaleLinear().domain([-3, 19]).range([H - margin.bottom, margin.top])

    svg.append('defs').append('clipPath').attr('id', 'plot-clip')
      .append('rect')
      .attr('x', margin.left).attr('y', margin.top)
      .attr('width', W - margin.left - margin.right)
      .attr('height', H - margin.top - margin.bottom)

    const line = d3.line<[number, number]>()
      .x(d => x(d[0]))
      .y(d => y(d[1]))

    const plot = svg.append('g').attr('clip-path', 'url(#plot-clip)')
    spectra.forEach((s, i) => {
      plot.append('path')
        .datum(s)
        .attr('d', line)
        .attr('fill', 'none')
        .attr('stroke', spectrumColors[i])
        .attr('stroke-width', spectrumWidths[i])
        .attr('stroke-linejoin', 'round')
    })

    // ticks point inward on all four sides
    const bottom = H - margin.bottom
    const right = W - margin.right
    const addAxis = (axis: any, tx: number, ty: number, labels: boolean) => {
      const g = svg.append('g')
        .attr('transform', `translate(${tx},${ty})`)
        .call(axis)
      g.select('.domain').remove()
      g.selectAll('line').attr('stroke', '#000').attr('stroke-width', 2)
      g.selectAll('text')
        .attr('font-family', FONT)
        .attr('font-size', 18.5)
        .attr('fill', '#000')
      if (!labels) g.selectAll('text').remove()
      return g
    }

    addAxis(d3.axisBottom(x).tickValues(xMajorTicks).tickSize(-10).tickPadding(14).tickFormat(d3.format('d')), 0, bottom, true)
    addAxis(d3.axisBottom(x).tickValues(xMinorTicks).tickSize(-6), 0, bottom, false)
    addAxis(d3.axisTop(x).tickValues(xMajorTicks).tickSize(-10), 0, margin.top, false)
    addAxis(d3.axisTop(x).tickValues(xMinorTicks).tickSize(-6), 0, margin.top, false)
    addAxis(d3.axisLeft(y).tickValues(yMajorTicks).tickSize(-10).tickPadding(10).tickFormat(d3.format('d')), margin.left, 0, true)
    addAxis(d3.axisLeft(y).tickValues(yMinorTicks).tickSize(-6), margin.left, 0, false)
    addAxis(d3.axisRight(y).tickValues(yMajorTicks).tickSize(-10), right, 0, false)
    addAxis(d3.axisRight(y).tickValues(yMinorTicks).tickSize(-6), right, 0, false)

    svg.append('rect')
      .attr('x', margin.left).attr('y', margin.top)
      .attr('width', right - margin.left)
      .attr('height', bottom - margin.top)
      .attr('fill', 'none')
      .attr('stroke', '#000')
      .attr('stroke-width', 2)

    // spectrum labels
    labelNames.forEach((name, i) => {
      svg.append('text')
        .attr('x', x(labelWave[i]))
        .attr('y', y(labelFlux[i]))
        .attr('font-family', FONT)
        .attr('font-size', 26)
        .attr('fill', labelColors[i])
        .text(name)
    })

    // axis titles
    svg.append('text')
      .attr('x', (margin.left + right) / 2 + 4)
      .attr('y', 620)
      .attr('text-anchor', 'middle')
      .attr('font-family', FONT)
      .attr('font-size', 26)
      .text('Rest-frame wavelength (Angstrom)')

    const yt = svg.append('text')
      .attr('transform', `translate(38,${(margin.top + bottom) / 2 + 2}) rotate(-90)`)
      .attr('text-anchor', 'middle')
      .attr('font-family', FONT)
      .attr('font-size', 28.5)
    yt.append('tspan').text('Scaled flux density (f')
    yt.append('tspan').attr('font-size', 16).attr('dy', 7).text('\u03bb')
    yt.append('tspan').attr('dy', -7).text(' ) + constant')
  }, [])

  return (
    <svg ref={ref} width={W} height={H}
      style={{ position: 'absolute', left: 0, top: 0, background: '#fff' }} />
  )
}
